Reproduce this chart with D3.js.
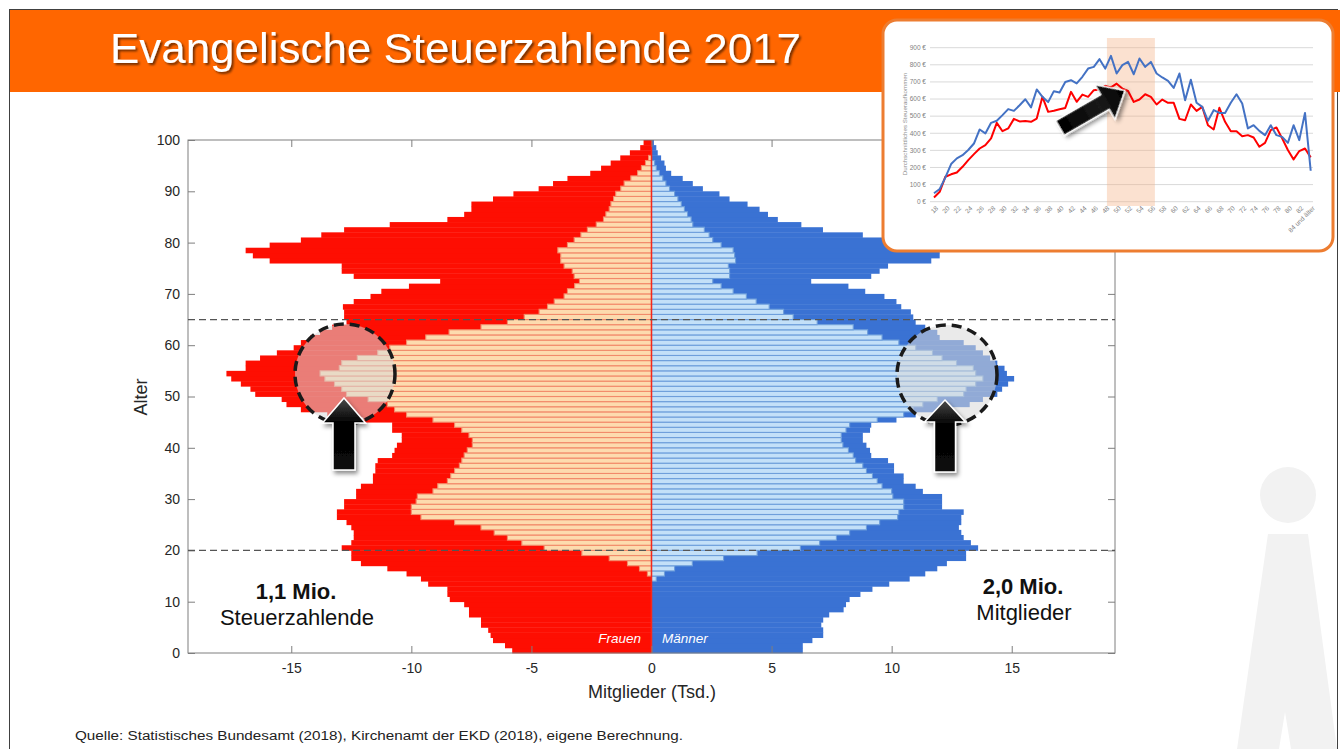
<!DOCTYPE html>
<html>
<head>
<meta charset="utf-8">
<script src="https://cdn.jsdelivr.net/npm/d3@7"></script>
<style>
  body { margin: 0; background: #fff; }
  svg { display: block; }
</style>
</head>
<body>
<div id="chart"></div>
<script>
// Altersjahre 0..99 (ein Balken pro Jahrgang)
const ages = d3.range(0, 100);

// Mitglieder Frauen (Tsd.), Alter 0..99
const womenMembers = [
  5.8, 6.1, 6.6, 6.7, 6.8, 7.1, 7.1, 7.6, 7.6, 7.8,
  8.4, 8.5, 8.5, 9.3, 9.6, 10.2, 11.0, 12.1, 12.5, 12.5,
  12.9, 12.5, 12.4, 12.4, 12.5, 12.7, 13.1, 13.1, 12.8, 12.8,
  12.3, 12.3, 12.1, 11.6, 11.6, 11.5, 11.5, 11.4, 10.8, 10.7,
  10.6, 10.4, 10.4, 10.8, 10.8, 12.0, 13.5, 14.6, 15.2, 15.4,
  16.5, 16.7, 17.1, 17.5, 17.7, 16.9, 16.9, 16.3, 15.6, 14.9,
  14.6, 14.2, 13.8, 13.3, 12.7, 12.8, 12.8, 12.85, 12.4, 11.7,
  11.25, 10.1, 8.8, 12.4, 12.9, 12.9, 15.9, 16.6, 16.9, 15.9,
  14.6, 13.75, 12.8, 10.9, 8.5, 7.8, 7.5, 7.5, 6.6, 5.75,
  4.7, 4.1, 3.5, 2.55, 2.1, 1.7, 1.3, 0.9, 0.47, 0.33
];

// Steuerzahlende Frauen (Tsd.), Alter 0..99
const womenTaxpayers = [
  0, 0, 0, 0, 0, 0, 0, 0, 0, 0,
  0, 0, 0, 0, 0, 0.17, 0.5, 1.0, 1.76, 2.9,
  4.47, 5.4, 6.0, 6.55, 7.1, 8.2, 9.6, 10.0, 10.0, 9.8,
  9.75, 9.1, 8.9, 8.5, 8.36, 8.2, 8.0, 7.9, 7.8, 7.67,
  7.46, 7.46, 7.6, 7.9, 8.2, 9.1, 10.2, 10.7, 11.0, 11.8,
  12.7, 12.9, 13.2, 13.6, 13.8, 13.0, 12.9, 12.25, 11.4, 10.9,
  10.2, 9.4, 8.43, 7.1, 6.0, 5.3, 4.68, 4.33, 4.05, 3.64,
  3.5, 3.2, 3.0, 3.22, 3.3, 3.64, 3.78, 3.78, 3.9, 3.5,
  3.22, 2.94, 2.67, 2.3, 2.0, 1.9, 1.76, 1.69, 1.58, 1.49,
  1.28, 1.14, 0.86, 0.58, 0.42, 0.25, 0.12, 0, 0, 0
];

// Mitglieder Männer (Tsd.), Alter 0..99
const menMembers = [
  6.3, 6.3, 6.7, 7.15, 7.15, 7.07, 7.15, 7.4, 8.0, 8.1,
  8.25, 8.7, 9.2, 9.9, 10.75, 11.4, 11.9, 12.3, 13.1, 13.1,
  13.6, 13.3, 13.0, 12.9, 12.8, 12.9, 12.9, 13.0, 12.1, 12.1,
  12.1, 11.3, 11.0, 10.5, 10.5, 10.1, 10.1, 9.85, 9.15, 9.1,
  8.95, 8.8, 8.8, 9.1, 9.15, 10.2, 11.0, 12.0, 13.25, 13.8,
  14.4, 14.6, 14.85, 15.1, 14.8, 14.7, 14.4, 14.1, 13.8, 13.5,
  13.0, 12.0, 11.9, 11.4, 11.0, 10.9, 10.8, 10.4, 10.2, 9.7,
  8.9, 8.2, 6.65, 9.15, 9.5, 9.85, 11.65, 12.0, 12.0, 11.5,
  10.5, 8.8, 7.14, 6.24, 5.26, 4.85, 4.5, 4.0, 3.25, 2.83,
  2.14, 1.72, 1.3, 0.82, 0.6, 0.54, 0.4, 0.26, 0.2, 0.1
];

// Steuerzahlende Männer (Tsd.), Alter 0..99
const menTaxpayers = [
  0, 0, 0, 0, 0, 0, 0, 0, 0, 0,
  0, 0, 0, 0, 0.2, 0.54, 0.96, 1.7, 3.0, 4.4,
  6.2, 7.0, 7.7, 8.25, 8.95, 9.5, 10.25, 10.3, 10.5, 10.5,
  10.05, 10.0, 9.6, 9.4, 9.2, 8.95, 8.8, 8.5, 8.4, 8.2,
  7.97, 7.9, 7.9, 8.1, 8.25, 9.4, 10.5, 10.9, 11.3, 11.9,
  13.0, 13.1, 13.5, 13.8, 13.5, 13.4, 12.7, 12.1, 11.7, 11.0,
  10.3, 9.6, 9.0, 8.4, 6.9, 5.9, 5.5, 4.9, 4.36, 3.95,
  3.4, 2.9, 2.55, 3.25, 3.25, 3.2, 3.5, 3.46, 3.4, 2.9,
  2.55, 2.4, 2.2, 1.72, 1.65, 1.5, 1.37, 1.24, 1.1, 0.96,
  0.75, 0.6, 0.47, 0.33, 0.2, 0.13, 0, 0, 0, 0
];

const xTicks = [-15, -10, -5, 0, 5, 10, 15];
const yTicks = d3.range(0, 101, 10);
const refAges = [20, 65];          // gestrichelte Linien

// Inset: durchschnittliches Steueraufkommen nach Alter
const insetAges = d3.range(18, 85);
const insetMen = [
  49, 74, 142, 220, 253, 272, 302, 340, 422, 399,
  461, 473, 506, 541, 531, 564, 599, 551, 656, 613,
  582, 646, 638, 700, 710, 691, 730, 778, 788, 833,
  778, 852, 749, 798, 817, 745, 837, 788, 817, 749,
  726, 706, 665, 749, 593, 713, 578, 554, 473, 535,
  519, 519, 578, 628, 574, 428, 447, 414, 389, 447,
  389, 379, 344, 447, 360, 519, 181
];
const insetWomen = [
  25, 58, 146, 160, 171, 204, 243, 278, 311, 331,
  370, 461, 412, 428, 484, 469, 471, 467, 486, 613,
  525, 531, 540, 548, 642, 584, 626, 613, 652, 656,
  677, 668, 690, 661, 647, 583, 597, 628, 613, 568,
  597, 578, 578, 484, 476, 568, 531, 554, 447, 422,
  549, 467, 412, 412, 383, 389, 375, 321, 344, 418,
  434, 370, 302, 247, 296, 311, 259
];
const insetXTicks = d3.range(18, 85, 2);
const insetLastLabel = "84 und älter";
const insetYTicks = d3.range(0, 901, 100);
const insetBand = [48.3, 56.7];

const FONT = "Arial, 'Liberation Sans', Helvetica, sans-serif";

const svg = d3.select("#chart").append("svg")
  .attr("width", 1340).attr("height", 749)
  .style("font-family", FONT);

const defs = svg.append("defs");
const shadow = defs.append("filter").attr("id", "shadow")
  .attr("x", "-30%").attr("y", "-30%").attr("width", "160%").attr("height", "160%");
shadow.append("feDropShadow").attr("dx", 2).attr("dy", 3)
  .attr("stdDeviation", 2).attr("flood-color", "#000").attr("flood-opacity", 0.45);
const tshadow = defs.append("filter").attr("id", "tshadow");
tshadow.append("feDropShadow").attr("dx", 2).attr("dy", 2)
  .attr("stdDeviation", 1.2).attr("flood-color", "#000").attr("flood-opacity", 0.55);
const grad = defs.append("linearGradient").attr("id", "arrowGrad")
  .attr("x1", 0).attr("y1", 0).attr("x2", 0).attr("y2", 1);
grad.append("stop").attr("offset", "0%").attr("stop-color", "#4a4a4a");
grad.append("stop").attr("offset", "35%").attr("stop-color", "#000");
grad.append("stop").attr("offset", "100%").attr("stop-color", "#0a0a0a");

// Rahmen und Titelband
svg.append("rect").attr("x", 9.5).attr("y", 9.5).attr("width", 1328).attr("height", 745)
  .attr("fill", "#fff").attr("stroke", "#404040").attr("stroke-width", 1);
svg.append("rect").attr("x", 10).attr("y", 10).attr("width", 1330).attr("height", 82)
  .attr("fill", "#FF6600");
svg.append("text").attr("x", 110).attr("y", 63)
  .attr("font-size", 42.5).attr("fill", "#fff")
  .attr("textLength", 691).attr("lengthAdjust", "spacingAndGlyphs")
  .attr("filter", "url(#tshadow)")
  .text("Evangelische Steuerzahlende 2017");

// Wasserzeichen "i"
const wm = svg.append("g").attr("fill", "#F2F2F2");
wm.append("circle").attr("cx", 1288).attr("cy", 495).attr("r", 28);
wm.append("path").attr("d", "M1268,534 L1308,534 L1337,749 L1291,749 L1285,712 L1279,749 L1237,749 Z");

// Pyramide
const x = d3.scaleLinear().domain([-19.3, 19.3]).range([188, 1115]);
const y = d3.scaleLinear().domain([0, 100]).range([653, 140]);
const x0 = x(0);

const rows = ages.map((a, i) => ({
  age: a,
  wM: womenMembers[i], wT: womenTaxpayers[i],
  mM: menMembers[i], mT: menTaxpayers[i]
}));

const plot = svg.append("g");

plot.selectAll(".wM").data(rows).join("rect")
  .attr("class", "wM")
  .attr("x", d => x(-d.wM)).attr("width", d => x0 - x(-d.wM))
  .attr("y", d => y(d.age + 1)).attr("height", d => y(d.age) - y(d.age + 1) + 0.4)
  .attr("fill", "#FE0E02");

plot.selectAll(".mM").data(rows).join("rect")
  .attr("class", "mM")
  .attr("x", x0).attr("width", d => x(d.mM) - x0)
  .attr("y", d => y(d.age + 1)).attr("height", d => y(d.age) - y(d.age + 1) + 0.4)
  .attr("fill", "#3A72D3");

plot.selectAll(".wT").data(rows.filter(d => d.wT > 0)).join("rect")
  .attr("class", "wT")
  .attr("x", d => x(-d.wT)).attr("width", d => x0 - x(-d.wT))
  .attr("y", d => y(d.age + 1)).attr("height", d => y(d.age) - y(d.age + 1))
  .attr("fill", "#FDDBAE").attr("stroke", "#F28A6A").attr("stroke-width", 1.1);

plot.selectAll(".mT").data(rows.filter(d => d.mT > 0)).join("rect")
  .attr("class", "mT")
  .attr("x", x0).attr("width", d => x(d.mT) - x0)
  .attr("y", d => y(d.age + 1)).attr("height", d => y(d.age) - y(d.age + 1))
  .attr("fill", "#C3E0F8").attr("stroke", "#6E9FDB").attr("stroke-width", 1.1);

// Nulllinie
plot.append("line").attr("x1", Math.round(x0) - 0.5).attr("x2", Math.round(x0) - 0.5)
  .attr("y1", y(100)).attr("y2", y(0))
  .attr("stroke", "#F5281A").attr("stroke-width", 1.5);

// Achsen
const axisColor = "#7f7f7f";
const gx = svg.append("g").attr("transform", `translate(0,${y(0)})`)
  .call(d3.axisBottom(x).tickValues(xTicks).tickSize(-7).tickPadding(10).tickFormat(d => String(d)));
const gy = svg.append("g").attr("transform", `translate(${x(-19.3)},0)`)
  .call(d3.axisLeft(y).tickValues(yTicks).tickSize(-7).tickPadding(8));
const gt = svg.append("g").attr("transform", `translate(0,${y(100)})`)
  .call(d3.axisTop(x).tickValues(xTicks).tickSize(-7).tickFormat(""));
const gr = svg.append("g").attr("transform", `translate(${x(19.3)},0)`)
  .call(d3.axisRight(y).tickValues(yTicks).tickSize(-7).tickFormat(""));
[gx, gy, gt, gr].forEach(g => {
  g.attr("font-family", FONT).attr("font-size", 14);
  g.select(".domain").remove();
  g.selectAll("line").attr("stroke", axisColor);
  g.selectAll("text").attr("fill", "#262626");
});
svg.append("rect").attr("x", x(-19.3)).attr("y", y(100))
  .attr("width", x(19.3) - x(-19.3)).attr("height", y(0) - y(100))
  .attr("fill", "none").attr("stroke", axisColor).attr("stroke-width", 1);

// gestrichelte Linien bei 20 und 65
svg.selectAll(".ref").data(refAges).join("line")
  .attr("x1", x(-19.3)).attr("x2", x(19.3))
  .attr("y1", d => y(d)).attr("y2", d => y(d))
  .attr("stroke", "#555").attr("stroke-width", 1.3).attr("stroke-dasharray", "7,4");

svg.append("text").attr("x", 652).attr("y", 698).attr("text-anchor", "middle")
  .attr("font-size", 18).attr("fill", "#262626").text("Mitglieder (Tsd.)");
svg.append("text").attr("transform", "translate(147,397) rotate(-90)")
  .attr("text-anchor", "middle").attr("font-size", 18).attr("fill", "#262626").text("Alter");

// Beschriftungen
svg.append("text").attr("x", 641).attr("y", 643).attr("text-anchor", "end")
  .attr("font-size", 13.5).attr("font-style", "italic").attr("fill", "#fff").text("Frauen");
svg.append("text").attr("x", 662).attr("y", 643)
  .attr("font-size", 13.5).attr("font-style", "italic").attr("fill", "#fff").text("Männer");

svg.append("text").attr("x", 296).attr("y", 599).attr("text-anchor", "middle")
  .attr("font-size", 22).attr("font-weight", "bold").attr("fill", "#111").text("1,1 Mio.");
svg.append("text").attr("x", 297).attr("y", 625).attr("text-anchor", "middle")
  .attr("font-size", 22).attr("fill", "#111").text("Steuerzahlende");
svg.append("text").attr("x", 1023).attr("y", 594).attr("text-anchor", "middle")
  .attr("font-size", 22).attr("font-weight", "bold").attr("fill", "#111").text("2,0 Mio.");
svg.append("text").attr("x", 1024).attr("y", 620).attr("text-anchor", "middle")
  .attr("font-size", 22).attr("fill", "#111").text("Mitglieder");

// Kreise
[[345, 374], [947, 375]].forEach(([cx, cy]) => {
  svg.append("circle").attr("cx", cx).attr("cy", cy).attr("r", 50)
    .attr("fill", "#D9D9D9").attr("fill-opacity", 0.55)
    .attr("stroke", "#1a1a1a").attr("stroke-width", 3.5).attr("stroke-dasharray", "10,6");
});

// Pfeile nach oben
function upArrow(cx, tip, base, bottom, hw, sw) {
  return `M${cx},${tip} L${cx + hw},${base} L${cx + sw},${base} L${cx + sw},${bottom} ` +
         `L${cx - sw},${bottom} L${cx - sw},${base} L${cx - hw},${base} Z`;
}
svg.append("path").attr("d", upArrow(344, 398, 423, 470, 21.5, 11))
  .attr("fill", "url(#arrowGrad)").attr("stroke", "#fff").attr("stroke-width", 1.5)
  .attr("filter", "url(#shadow)");
svg.append("path").attr("d", upArrow(945, 400, 422, 472, 20.5, 10.5))
  .attr("fill", "url(#arrowGrad)").attr("stroke", "#fff").attr("stroke-width", 1.5)
  .attr("filter", "url(#shadow)");

// Quelle
svg.append("text").attr("x", 75).attr("y", 740)
  .attr("font-size", 12.5).attr("fill", "#222")
  .attr("textLength", 608).attr("lengthAdjust", "spacingAndGlyphs")
  .text("Quelle: Statistisches Bundesamt (2018), Kirchenamt der EKD (2018), eigene Berechnung.");

// Inset
const inset = svg.append("g");
inset.append("rect").attr("x", 883).attr("y", 20).attr("width", 450).attr("height", 231)
  .attr("rx", 14).attr("fill", "#fff").attr("stroke", "#ED7D31").attr("stroke-width", 3);

const xi = d3.scaleLinear().domain([18, 84]).range([934, 1310.7]);
const yi = d3.scaleLinear().domain([0, 900]).range([201.7, 47.7]);

inset.selectAll(".grid").data(insetYTicks).join("line")
  .attr("x1", 930).attr("x2", 1313)
  .attr("y1", d => yi(d)).attr("y2", d => yi(d))
  .attr("stroke", "#d9d9d9").attr("stroke-width", 1);

inset.append("rect")
  .attr("x", xi(insetBand[0])).attr("width", xi(insetBand[1]) - xi(insetBand[0]))
  .attr("y", 38).attr("height", 168)
  .attr("fill", "#F4B183").attr("fill-opacity", 0.38);

inset.selectAll(".ylab").data(insetYTicks).join("text")
  .attr("x", 926).attr("y", d => yi(d)).attr("dy", "0.35em")
  .attr("text-anchor", "end").attr("font-size", 6.5).attr("fill", "#7f7f7f")
  .text(d => d + " €");

inset.selectAll(".xlab").data(insetXTicks).join("text")
  .attr("transform", d => `translate(${xi(d) + 3},207) rotate(-45)`)
  .attr("dy", "0.35em").attr("text-anchor", "end")
  .attr("font-size", 6.5).attr("fill", "#7f7f7f")
  .text(d => d === 84 ? insetLastLabel : d);

inset.append("text").attr("transform", "translate(907,124) rotate(-90)")
  .attr("text-anchor", "middle").attr("font-size", 6.2).attr("fill", "#8c8c8c")
  .text("Durchschnittliches Steueraufkommen");

const line = d3.line().x((d, i) => xi(insetAges[i])).y(d => yi(d));
inset.append("path").datum(insetWomen).attr("d", line)
  .attr("fill", "none").attr("stroke", "#FF0000").attr("stroke-width", 2)
  .attr("stroke-linejoin", "round");
inset.append("path").datum(insetMen).attr("d", line)
  .attr("fill", "none").attr("stroke", "#4472C4").attr("stroke-width", 2)
  .attr("stroke-linejoin", "round");

// Pfeil im Inset
const ig = defs.append("linearGradient").attr("id", "insetGrad")
  .attr("x1", 0).attr("y1", 0).attr("x2", 1).attr("y2", 0);
ig.append("stop").attr("offset", "0%").attr("stop-color", "#000");
ig.append("stop").attr("offset", "60%").attr("stop-color", "#1a1a1a");
ig.append("stop").attr("offset", "100%").attr("stop-color", "#000");
inset.append("path")
  .attr("d", "M0,-8.5 L52,-8.5 L52,-20 L75,0 L52,20 L52,8.5 L0,8.5 Z")
  .attr("transform", "translate(1060,128) rotate(-30)")
  .attr("fill", "url(#insetGrad)").attr("stroke", "#fff").attr("stroke-width", 1.3)
  .attr("filter", "url(#shadow)");
</script>
</body>
</html>
